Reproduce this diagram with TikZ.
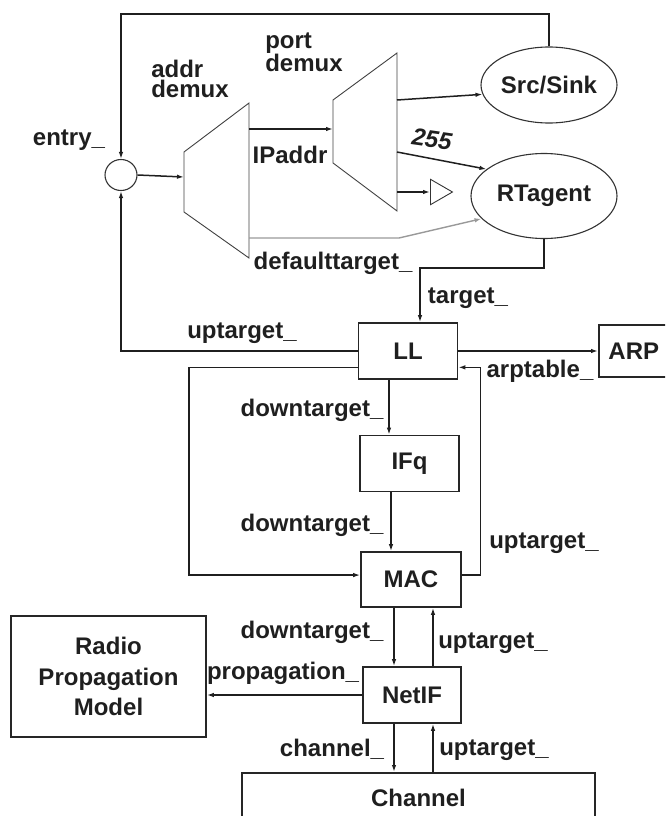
\documentclass[tikz,border=0pt]{standalone}
\usepackage{fontspec}
\setmainfont{Liberation Sans}
\usetikzlibrary{arrows.meta,shapes.geometric,calc}
\newcommand\dfont{\fontsize{24}{19.5}\selectfont\bfseries}
\begin{document}
\begin{tikzpicture}[x=1pt,y=-1pt,
  ln/.style={line width=1.5pt, draw=black!88},
  arr/.style={ln,-{Latex[length=7pt,width=4.5pt]}},
  garr/.style={line width=1.4pt, draw=black!40,-{Latex[length=7pt,width=4.5pt]}},
  box/.style={draw=black!85, line width=1.6pt, minimum width=99pt, minimum height=56pt, inner sep=0pt, font=\dfont, text=black!88},
  ell/.style={ellipse, draw=black!80, line width=1.1pt, inner sep=0pt, font=\dfont, text=black!88},
  lbl/.style={font=\dfont, text=black!88, inner sep=0pt},
  trap/.style={draw=black!75, line width=0.9pt, line join=miter}]
\useasboundingbox (0,0) rectangle (665,816);
\clip (0,0) rectangle (665,816);
% nodes
\node[ell, minimum width=32pt, minimum height=31pt] (circ) at (121,175) {};
\node[ell, minimum width=136pt, minimum height=76pt] (src) at (549,85) {Src/Sink};
\node[ell, minimum width=146pt, minimum height=85pt] (rt) at (544,196) {RTagent};
\node[box] (ll) at (408,351) {LL};
\node[box, minimum width=70pt, minimum height=52pt, anchor=west] (arp) at (598,351) {ARP};
\node[box] (ifq) at (409.5,463.5) {IFq};
\node[box, minimum width=100pt, minimum height=55pt] (mac) at (411,579.5) {MAC};
\node[box, minimum width=98pt] (netif) at (412,695) {NetIF};
\node[box, minimum width=195pt, minimum height=121pt, align=center, font=\fontsize{24}{30.5}\selectfont\bfseries] (rpm) at (108.5,676.5) {Radio\\Propagation\\Model};
\node[box, minimum width=353pt, minimum height=50pt, anchor=north] (chan) at (418.5,772) {Channel};
% triangle
\node[isosceles triangle, isosceles triangle apex angle=60, draw=black!80, line width=0.9pt, minimum height=22pt, minimum width=22pt, inner sep=0pt, anchor=west] (tri) at (430,192) {};
% demux trapezoids
\coordinate (a1) at (184,152); \coordinate (a2) at (249,103);
\coordinate (a3) at (249,258); \coordinate (a4) at (184,212);
\draw[trap] (a1) -- (a2) -- (a3) -- (a4) -- cycle;
\coordinate (p1) at (333,100); \coordinate (p2) at (397,53);
\coordinate (p3) at (397,211); \coordinate (p4) at (333,163);
\draw[trap] (p1) -- (p2) -- (p3) -- (p4) -- cycle;
\coordinate (adin) at (184,177);
\coordinate (adout) at (249,129);
\coordinate (pdin) at (333,129);
\coordinate (pdo1) at (397,100);
\coordinate (pdo2) at (397,152);
\coordinate (pdo3) at (397,192);
\coordinate (addef) at (249,238);
\coordinate (defk) at (399,238);
\coordinate (toply) at (0,14);
\coordinate (tgt) at (420,268);
% labels
\node[lbl] (entry) at (69,140) {entry\_};
\node[lbl, align=left] (addrl) at (190,79) {addr\\demux};
\node[lbl, align=left] (portl) at (304,52) {port\\demux};
\node[lbl] (ipl) at (290,155) {IPaddr};
\node[lbl, font=\fontsize{24}{19}\selectfont\bfseries\itshape, rotate=-8] (l255) at (432,139) {255};
\node[lbl] (deft) at (333,263) {defaulttarget\_};
\node[lbl] (tgtl) at (468,298) {target\_};
\node[lbl] (upl1) at (242,333) {uptarget\_};
\node[lbl] (arpt) at (540,371) {arptable\_};
\node[lbl] (dn1) at (312,410) {downtarget\_};
\node[lbl] (dn2) at (312,525) {downtarget\_};
\node[lbl] (upl2) at (544,543) {uptarget\_};
\node[lbl] (dn3) at (312,632) {downtarget\_};
\node[lbl] (upl3) at (493,643) {uptarget\_};
\node[lbl] (propl) at (283,673) {propagation\_};
\node[lbl] (chl) at (332,749) {channel\_};
\node[lbl] (upl4) at (494,750) {uptarget\_};
% connectors
\draw[arr] (src.north) -- (src.north |- toply) -| (circ.north);
\draw[arr] (ll.west) -| (circ.south);
\draw[arr] (circ.east) -- (adin);
\draw[arr] (adout) -- (pdin);
\draw[arr] (pdo1) -- (src.188);
\draw[arr] (pdo2) -- (rt.155);
\draw[arr] (pdo3) -- (tri.west);
\draw[garr] (addef) -- (defk) -- (rt.200);
\draw[arr] (rt.south) |- (tgt) -- (tgt |- ll.north);
\draw[arr] (ll.east) -- (ll.east -| arp.west);
\draw[arr] (mac.5) -| ($(ll.-18)+(22,0)$) -- (ll.-18);
\draw[arr] (ll.198) -| ($(mac.175)+(-171,0)$) -- (mac.175);
\draw[arr] ($(ll.south)+(-19,0)$) -- ($(ifq.north)+(-20.5,0)$);
\draw[arr] ($(ifq.south)+(-18.5,0)$) -- ($(mac.north)+(-20,0)$);
\draw[arr] ($(mac.south)+(-17,0)$) -- ($(netif.north)+(-18,0)$);
\draw[arr] ($(netif.north)+(21,0)$) -- ($(mac.south)+(22,0)$);
\draw[arr] (netif.west) -- (netif.west -| rpm.east);
\draw[arr] ($(netif.south)+(-18,0)$) -- ($(chan.north)+(-24.5,0)$);
\draw[arr] ($(chan.north)+(14.5,0)$) -- ($(netif.south)+(21,0)$);
\end{tikzpicture}
\end{document}
